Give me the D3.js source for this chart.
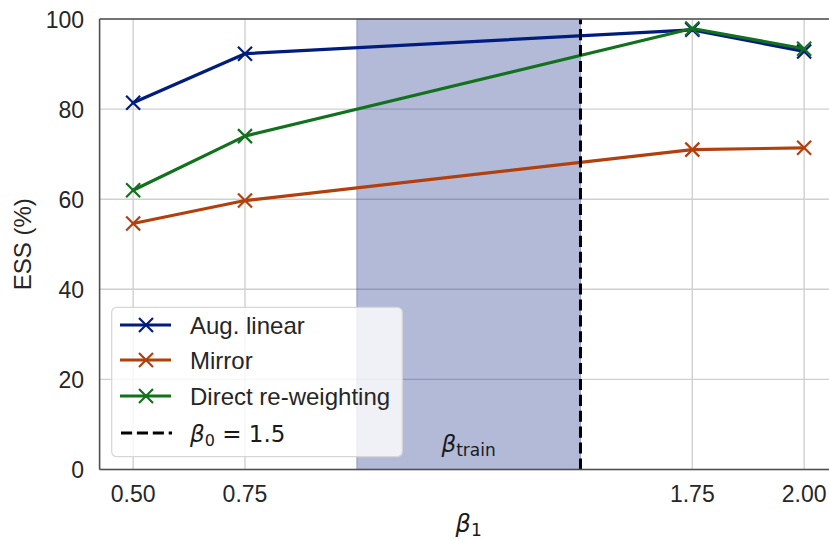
<!DOCTYPE html>
<html>
<head>
<meta charset="utf-8">
<script src="https://cdn.jsdelivr.net/npm/d3@7"></script>
<style>
  html, body { margin: 0; padding: 0; background: #ffffff; }
  svg { display: block; }
  .sans { font-family: "Liberation Sans", Arial, sans-serif; fill: #262626; }
  .math { font-family: "DejaVu Sans", sans-serif; fill: #1a1a1a; }
</style>
</head>
<body>
<svg id="chart" width="829" height="540"></svg>
<script>
// β1 values on the x axis and ESS (%) for each method
const betas = [0.5, 0.75, 1.75, 2.0];
const augLinear = [81.4, 92.3, 97.6, 92.8];
const mirror = [54.6, 59.7, 71.0, 71.4];
const direct = [62.0, 74.0, 97.9, 93.4];

const seriesNames = ["Aug. linear", "Mirror", "Direct re-weighting"];
const seriesColors = ["#001c7f", "#b1400d", "#12711c"];

const xTicks = [0.5, 0.75, 1.75, 2.0];
const yTicks = [0, 20, 40, 60, 80, 100];

const trainRange = [1.0, 1.5];   // β_train interval
const beta0 = 1.5;               // reference β0

const svg = d3.select("#chart");

const x = d3.scaleLinear().domain([0.425, 2.075]).range([99.6, 837.7]);
const y = d3.scaleLinear().domain([0, 100]).range([469.5, 19]);

const [x0, x1] = x.range();
const [yb, yt] = y.range();

// grid
const grid = svg.append("g");
grid.selectAll("line.gx").data(xTicks).join("line")
  .attr("x1", d => x(d)).attr("x2", d => x(d))
  .attr("y1", yt).attr("y2", yb)
  .attr("stroke", "#d0d0d0").attr("stroke-width", 1.4);
grid.selectAll("line.gy").data(yTicks).join("line")
  .attr("x1", x0).attr("x2", x1)
  .attr("y1", d => y(d)).attr("y2", d => y(d))
  .attr("stroke", "#d0d0d0").attr("stroke-width", 1.4);

// β_train span
svg.append("rect")
  .attr("x", x(trainRange[0])).attr("y", yt)
  .attr("width", x(trainRange[1]) - x(trainRange[0]))
  .attr("height", yb - yt)
  .attr("fill", "#001c7f").attr("fill-opacity", 0.3)
  .attr("stroke", "#001c7f").attr("stroke-opacity", 0.3).attr("stroke-width", 1);

// series lines and markers
const allSeries = [augLinear, mirror, direct];
const line = d3.line().x((d, i) => x(betas[i])).y(d => y(d));
const xMark = (s) => `M${-s},${-s}L${s},${s}M${-s},${s}L${s},${-s}`;

allSeries.forEach((vals, k) => {
  const g = svg.append("g");
  g.append("path").datum(vals)
    .attr("d", line)
    .attr("fill", "none")
    .attr("stroke", seriesColors[k])
    .attr("stroke-width", 3.2)
    .attr("stroke-linejoin", "round")
    .attr("stroke-linecap", "round");
  g.selectAll("path.m").data(vals).join("path")
    .attr("class", "m")
    .attr("transform", (d, i) => `translate(${x(betas[i])},${y(d)})`)
    .attr("d", xMark(7))
    .attr("stroke", seriesColors[k])
    .attr("stroke-width", 2.2)
    .attr("fill", "none");
});

// β0 reference line
svg.append("line")
  .attr("x1", x(beta0)).attr("x2", x(beta0))
  .attr("y1", yb).attr("y2", yt)
  .attr("stroke", "#000").attr("stroke-width", 3)
  .attr("stroke-dasharray", "11.1,4.8");

// β_train label
const tl = svg.append("text").attr("class", "math")
  .attr("x", x((trainRange[0] + trainRange[1]) / 2))
  .attr("y", 452)
  .attr("text-anchor", "middle")
  .attr("font-size", 23);
tl.append("tspan").attr("font-style", "italic").text("β");
tl.append("tspan").attr("font-size", 17).attr("dy", 4).text("train");

// spines (right edge lies beyond the canvas)
const spines = svg.append("g").attr("stroke", "#505050").attr("stroke-width", 1.6).attr("fill", "none");
spines.append("line").attr("x1", x0).attr("x2", x0).attr("y1", yt).attr("y2", yb);
spines.append("line").attr("x1", x0).attr("x2", x1).attr("y1", yb).attr("y2", yb);
spines.append("line").attr("x1", x0).attr("x2", x1).attr("y1", yt).attr("y2", yt);

// tick labels
svg.append("g").selectAll("text").data(xTicks).join("text")
  .attr("class", "sans")
  .attr("x", d => x(d)).attr("y", 502)
  .attr("text-anchor", "middle")
  .attr("font-size", 23)
  .text(d => d3.format(".2f")(d));
svg.append("g").selectAll("text").data(yTicks).join("text")
  .attr("class", "sans")
  .attr("x", 84).attr("y", d => y(d) + 8.5)
  .attr("text-anchor", "end")
  .attr("font-size", 23)
  .text(d => d);

// axis titles
svg.append("text").attr("class", "sans")
  .attr("transform", `translate(31,${(yt + yb) / 2}) rotate(-90)`)
  .attr("text-anchor", "middle")
  .attr("font-size", 24)
  .text("ESS (%)");
const xl = svg.append("text").attr("class", "math")
  .attr("x", (x0 + x1) / 2).attr("y", 532)
  .attr("text-anchor", "middle")
  .attr("font-size", 24);
xl.append("tspan").attr("font-style", "italic").text("β");
xl.append("tspan").attr("font-size", 17).attr("dy", 4).text("1");

// legend
const leg = svg.append("g");
leg.append("rect")
  .attr("x", 111.7).attr("y", 307.3)
  .attr("width", 290.6).attr("height", 149.4)
  .attr("rx", 5).attr("ry", 5)
  .attr("fill", "#ffffff").attr("fill-opacity", 0.8)
  .attr("stroke", "#d6d6d6").attr("stroke-width", 1.2);

const rowY = [325, 360, 396, 433];
seriesNames.forEach((name, k) => {
  const cy = rowY[k];
  leg.append("line")
    .attr("x1", 120).attr("x2", 171).attr("y1", cy).attr("y2", cy)
    .attr("stroke", seriesColors[k]).attr("stroke-width", 3.2);
  leg.append("path")
    .attr("transform", `translate(146,${cy})`)
    .attr("d", xMark(7))
    .attr("stroke", seriesColors[k]).attr("stroke-width", 2.2).attr("fill", "none");
  leg.append("text").attr("class", "sans")
    .attr("x", 190).attr("y", cy + 8.5)
    .attr("font-size", 24)
    .text(name);
});
leg.append("line")
  .attr("x1", 121).attr("x2", 172).attr("y1", rowY[3]).attr("y2", rowY[3])
  .attr("stroke", "#000").attr("stroke-width", 3)
  .attr("stroke-dasharray", "11.1,4.8");
const lb = leg.append("text").attr("class", "math")
  .attr("x", 190).attr("y", rowY[3] + 8.5)
  .attr("font-size", 23);
lb.append("tspan").attr("font-style", "italic").text("β");
lb.append("tspan").attr("font-size", 16).attr("dy", 4).text("0");
lb.append("tspan").attr("dy", -4).text(" = 1.5");
</script>
</body>
</html>
